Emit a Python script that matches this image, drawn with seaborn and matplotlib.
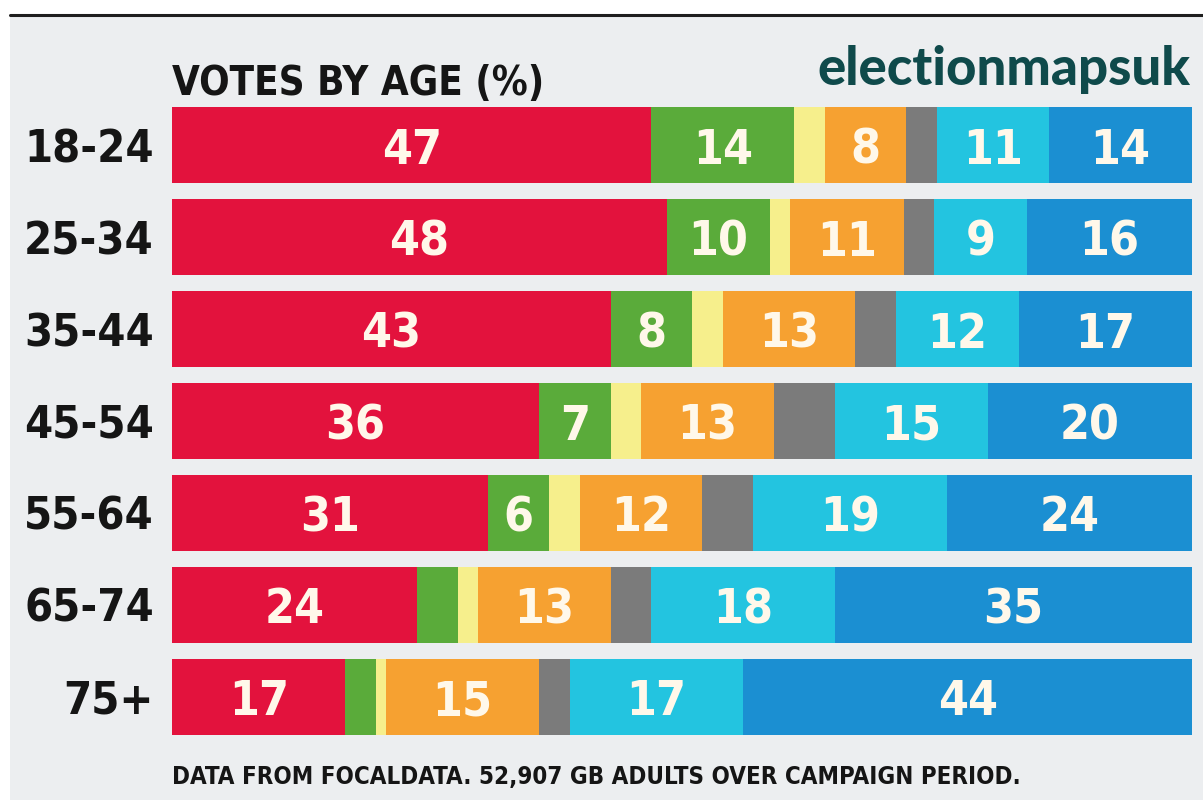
import matplotlib
matplotlib.use("Agg")
import matplotlib.pyplot as plt
import seaborn as sns
import numpy as np
import pandas as pd
from matplotlib import font_manager as fm
from matplotlib.patches import Rectangle
from matplotlib.lines import Line2D

# ---- data ----
ages = ["18-24", "25-34", "35-44", "45-54", "55-64", "65-74", "75+"]
parties = ["Labour", "Green", "SNP/PC", "Lib Dem", "Other", "Reform", "Conservative"]
labour = [47, 48, 43, 36, 31, 24, 17]
green = [14, 10, 8, 7, 6, 4, 3]
snp_pc = [3, 2, 3, 3, 3, 2, 1]
libdem = [8, 11, 13, 13, 12, 13, 15]
other = [3, 3, 4, 6, 5, 4, 3]
reform = [11, 9, 12, 15, 19, 18, 17]
conservative = [14, 16, 17, 20, 24, 35, 44]

colors = ["#e3123d", "#5aab3a", "#f6ef8c", "#f6a131", "#7b7b7b", "#23c4e0", "#1b8fd2"]
labelled = [True, True, False, True, False, True, True]
min_label = 5

title = "VOTES BY AGE (%)"
brand = "electionmapsuk"
footer = "DATA FROM FOCALDATA. 52,907 GB ADULTS OVER CAMPAIGN PERIOD."

# ---- setup ----
sns.set_theme(style="white")
names = {f.name for f in fm.fontManager.ttflist}
narrow = "Liberation Sans Narrow" in names
cond = "Liberation Sans Narrow" if narrow else "DejaVu Sans"
plt.rcParams["font.family"] = [cond, "DejaVu Sans"]
sc = 1.0 if narrow else 0.72

W, H = 1203, 807
fig = plt.figure(figsize=(W / 100, H / 100), dpi=100, facecolor="white")
fig.add_artist(Rectangle((10 / W, 1 - 800 / H), (W - 10) / W, (800 - 16) / H,
                         transform=fig.transFigure, facecolor="#eceef0",
                         edgecolor="none", zorder=0))
fig.add_artist(Line2D([10 / W, 1], [1 - 15 / H, 1 - 15 / H], transform=fig.transFigure,
                      color="#1e1e1e", lw=2.2, zorder=1))

ax = fig.add_axes([172 / W, 1 - 735 / H, 1020 / W, 628 / H])
ax.set_facecolor("none")

vals = np.array([labour, green, snp_pc, libdem, other, reform, conservative], dtype=float).T
shares = vals / vals.sum(axis=1, keepdims=True) * 100
cum = np.cumsum(shares, axis=1)

for j in reversed(range(len(parties))):
    df = pd.DataFrame({"age": ages, "x": cum[:, j]})
    sns.barplot(data=df, x="x", y="age", orient="h", color=colors[j], saturation=1,
                width=0.83, edgecolor="none", linewidth=0, ax=ax)

for i in range(len(ages)):
    left = 0.0
    for j in range(len(parties)):
        w = shares[i, j]
        v = vals[i, j]
        if labelled[j] and v >= min_label:
            ax.text(left + w / 2, i, f"{v:.0f}", ha="center", va="center_baseline",
                    color="#fff8ea", fontsize=48 * sc, fontweight="bold",
                    fontstretch="condensed")
        left += w

ax.set_xlim(0, 100)
ax.set_ylim(6.415, -0.415)
ax.set_xticks([])
ax.set_xlabel("")
ax.set_ylabel("")
ax.tick_params(axis="y", length=0, pad=13, labelsize=45 * sc, labelcolor="#151515")
for lbl in ax.get_yticklabels():
    lbl.set_fontweight("bold")
    lbl.set_fontstretch("condensed")
sns.despine(ax=ax, left=True, bottom=True)

fig.text(172 / W, 1 - 95 / H, title, ha="left", va="baseline", fontsize=40 * sc,
         fontweight="bold", color="#151515", fontstretch="condensed")
fig.text(1190 / W, 1 - 85 / H, brand, ha="right", va="baseline", fontsize=38,
         fontweight="black", color="#0f4a4b", family=["Lato", "DejaVu Sans"])
fig.text(172 / W, 1 - 784 / H, footer, ha="left", va="baseline", fontsize=24 * sc,
         fontweight="bold", color="#151515", fontstretch="condensed")

fig.savefig("out.png", dpi=100, facecolor="white")
